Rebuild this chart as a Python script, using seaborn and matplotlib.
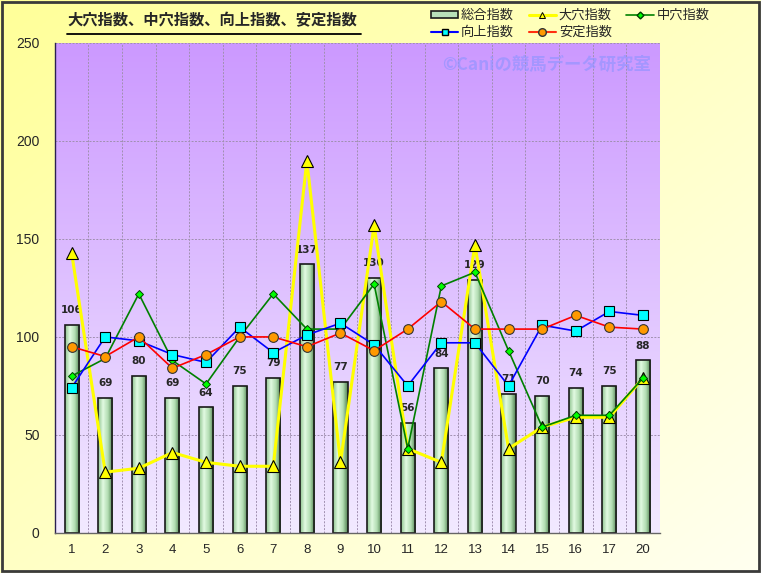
import numpy as np
import pandas as pd
import seaborn as sns
import matplotlib.pyplot as plt
from matplotlib.colors import LinearSegmentedColormap
from matplotlib.lines import Line2D
from matplotlib.patches import Patch, Rectangle

sns.set_style('white')
plt.rcParams['font.family'] = ['Noto Sans CJK JP', 'DejaVu Sans']

# data
races = ['1', '2', '3', '4', '5', '6', '7', '8', '9', '10', '11', '12', '13', '14', '15', '16', '17', '20']
sougou = [106, 69, 80, 69, 64, 75, 79, 137, 77, 130, 56, 84, 129, 71, 70, 74, 75, 88]
oana = [143, 31, 33, 41, 36, 34, 34, 190, 36, 157, 43, 36, 147, 43, 54, 59, 59, 79]
chuuana = [80, 89, 122, 88, 76, 100, 122, 104, 104, 127, 43, 126, 133, 93, 54, 60, 60, 79]
koujou = [74, 100, 98, 91, 87, 105, 92, 101, 107, 96, 75, 97, 97, 75, 106, 103, 113, 111]
antei = [95, 90, 100, 84, 91, 100, 100, 95, 102, 93, 104, 118, 104, 104, 104, 111, 105, 104]

df = pd.DataFrame({'race': races, 'sougou': sougou, 'oana': oana,
                   'chuuana': chuuana, 'koujou': koujou, 'antei': antei})

fig = plt.figure(figsize=(7.61, 5.73), dpi=100)

# yellow figure background
bg = fig.add_axes([0, 0, 1, 1], zorder=-10)
gx, gy = np.meshgrid(np.linspace(0, 1, 200), np.linspace(0, 1, 200))
bgcm = LinearSegmentedColormap.from_list('bg', ['#FFFF99', '#FFFFF0'])
bg.imshow((gx + gy) / 2, cmap=bgcm, extent=[0, 1, 0, 1], aspect='auto', origin='upper')
bg.axis('off')
fig.patches.append(Rectangle((0.002, 0.003), 0.996, 0.994, transform=fig.transFigure,
                             fill=False, edgecolor='#3a3a3a', linewidth=2))

ax = fig.add_axes([0.072, 0.07, 0.795, 0.855])

# purple plot area gradient
pcm = LinearSegmentedColormap.from_list('pl', ['#CC99FF', '#F2EAFF'])
ax.imshow(np.linspace(0, 1, 256).reshape(-1, 1), cmap=pcm, extent=[-0.5, 17.5, 0, 250],
          aspect='auto', origin='upper', zorder=0)

sns.barplot(data=df, x='race', y='sougou', order=races, width=0.42, color='#B0DDB0',
            edgecolor='#1a1a1a', linewidth=1.2, ax=ax, zorder=2)

barcm = LinearSegmentedColormap.from_list('bar', ['#8FC48F', '#E2FAE2', '#B2DDB2', '#4F7F4F'])
for p in ax.patches:
    x0, w, h = p.get_x(), p.get_width(), p.get_height()
    im = ax.imshow(np.linspace(0, 1, 64).reshape(1, -1), cmap=barcm,
                   extent=[x0, x0 + w, 0, h], aspect='auto', zorder=2)
    im.set_clip_path(p)
    p.set_facecolor('none')
    p.set_zorder(2.5)

ax.bar_label(ax.containers[0], padding=7, fontsize=7.5, fontweight='bold',
             family='DejaVu Sans', zorder=3)

sns.pointplot(data=df, x='race', y='oana', order=races, color='#FFFF00', marker='^',
              markersize=8, markeredgecolor='black', markeredgewidth=0.8,
              linewidth=2.2, errorbar=None, ax=ax, zorder=4)
sns.pointplot(data=df, x='race', y='chuuana', order=races, color='#008000', marker='D',
              markersize=4.5, markerfacecolor='#00FF00', markeredgecolor='#004000',
              markeredgewidth=0.7, linewidth=1.2, errorbar=None, ax=ax, zorder=5)
sns.pointplot(data=df, x='race', y='koujou', order=races, color='#0000FF', marker='s',
              markersize=6.5, markerfacecolor='#00FFFF', markeredgecolor='black',
              markeredgewidth=0.8, linewidth=1.2, errorbar=None, ax=ax, zorder=6)
sns.pointplot(data=df, x='race', y='antei', order=races, color='#FF0000', marker='o',
              markersize=7, markerfacecolor='#FF9900', markeredgecolor='#333333',
              markeredgewidth=0.8, linewidth=1.2, errorbar=None, ax=ax, zorder=7)

ax.set_xlim(-0.5, 17.5)
ax.set_ylim(0, 250)
ax.set_yticks([0, 50, 100, 150, 200, 250])
ax.set_xticks(np.arange(0.5, 17.5, 1), minor=True)
ax.set_axisbelow(True)
ax.grid(axis='y', which='major', color='#a090b0', linestyle=(0, (2, 1.5)), linewidth=0.7)
ax.grid(axis='x', which='minor', color='#a090b0', linestyle=(0, (2, 1.5)), linewidth=0.7)
ax.grid(axis='x', which='major', visible=False)
ax.set_xlabel('')
ax.set_ylabel('')
ax.tick_params(axis='both', which='both', length=0)
ax.tick_params(axis='x', pad=8, labelsize=9.5)
ax.tick_params(axis='y', pad=11, labelsize=10)
for lab in ax.get_yticklabels() + ax.get_xticklabels():
    lab.set_family('Liberation Sans')
for s in ['top', 'right']:
    ax.spines[s].set_visible(False)
ax.spines['left'].set_color('#2a2050')
ax.spines['bottom'].set_color('#666666')
ax.spines['left'].set_linewidth(1)
ax.spines['bottom'].set_linewidth(1)

ax.text(0.985, 0.955, '©Caniの競馬データ研究室', transform=ax.transAxes, ha='right', va='center',
        fontsize=12.5, fontweight='bold', color='#9494FF', alpha=0.7, zorder=1.5)

fig.text(0.089, 0.965, '大穴指数、中穴指数、向上指数、安定指数', fontsize=11, fontweight='bold',
         ha='left', va='center')
fig.add_artist(Line2D([0.088, 0.475], [0.941, 0.941], color='black', linewidth=1.3))

handles = [
    Patch(facecolor='#B8E0B8', edgecolor='#1a1a1a', linewidth=1.2),
    Line2D([], [], color='#0000FF', linewidth=1.5, marker='s', markersize=5,
           markerfacecolor='#00FFFF', markeredgecolor='black'),
    Line2D([], [], color='#FFFF00', linewidth=2.2, marker='^', markersize=5,
           markerfacecolor='#FFFF00', markeredgecolor='black', markeredgewidth=0.7),
    Line2D([], [], color='#FF3010', linewidth=1.5, marker='o', markersize=5.5,
           markerfacecolor='#FF9900', markeredgecolor='#333333'),
    Line2D([], [], color='#008000', linewidth=1.2, marker='D', markersize=3.5,
           markerfacecolor='#00FF00', markeredgecolor='#004000'),
]
labels = ['総合指数', '向上指数', '大穴指数', '安定指数', '中穴指数']
fig.legend(handles, labels, loc='upper left', bbox_to_anchor=(0.566, 0.984), ncol=3,
           frameon=False, fontsize=9.5, handlelength=2.1, handleheight=0.55,
           columnspacing=1.1, handletextpad=0.2, labelspacing=0.3,
           borderpad=0, borderaxespad=0)

fig.savefig('out.png', dpi=100)
